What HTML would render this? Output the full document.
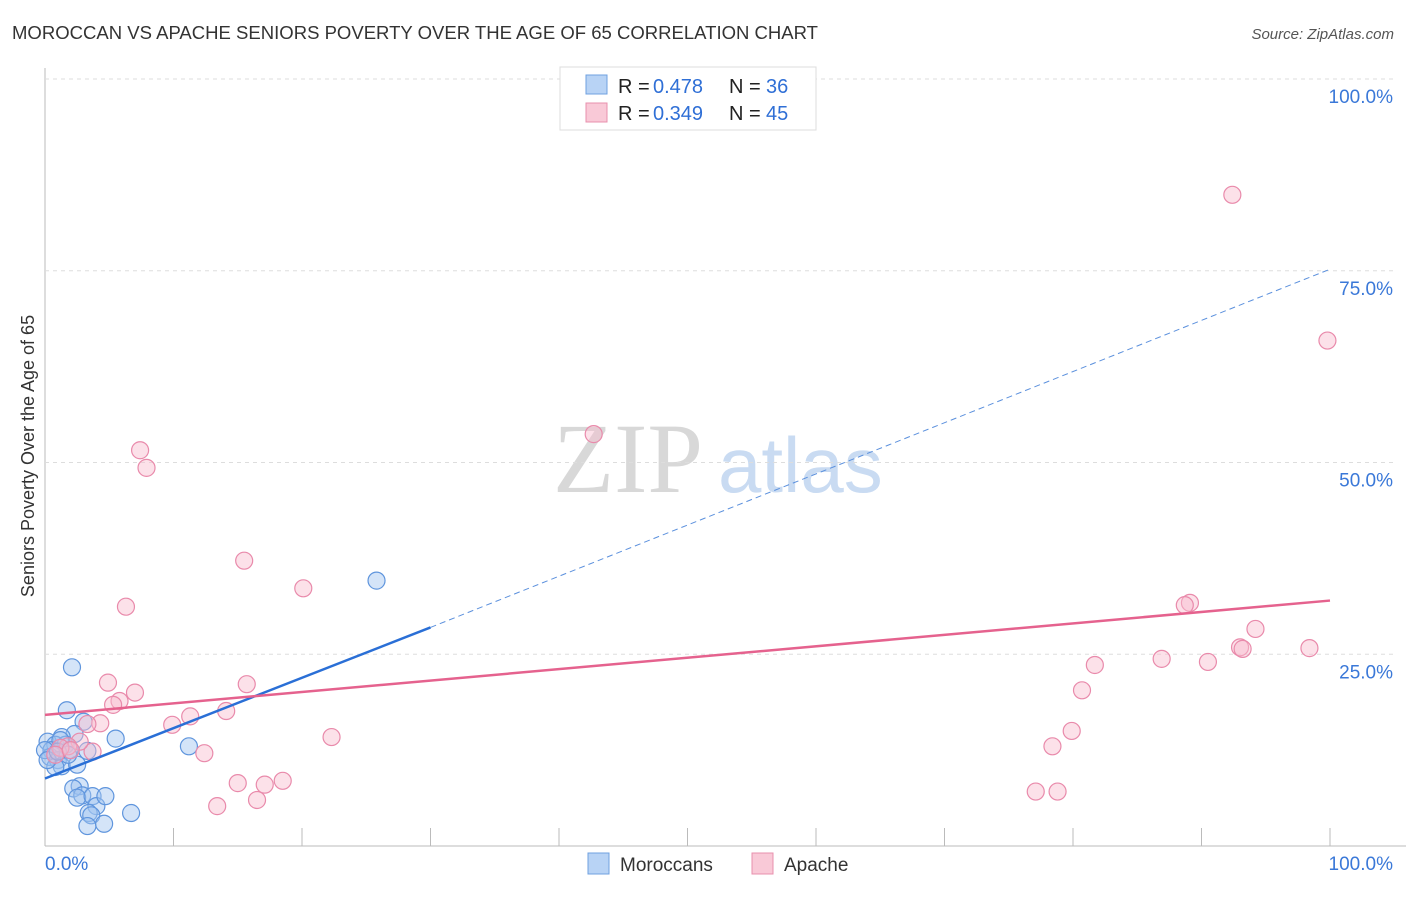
<!DOCTYPE html>
<html><head><meta charset="utf-8"><style>
body{margin:0;background:#fff;font-family:"Liberation Sans",sans-serif;}
svg text{font-family:"Liberation Sans",sans-serif;}
</style></head><body>
<svg id="c" width="1406" height="892">
<text x="12" y="39" font-size="18" fill="#333" textLength="806" lengthAdjust="spacingAndGlyphs">MOROCCAN VS APACHE SENIORS POVERTY OVER THE AGE OF 65 CORRELATION CHART</text>
<text x="1394" y="39" font-size="15" fill="#555" font-style="italic" text-anchor="end">Source: ZipAtlas.com</text>
<text x="34" y="456" font-size="18" fill="#333" text-anchor="middle" transform="rotate(-90 34 456)">Seniors Poverty Over the Age of 65</text>
<text x="553" y="492" font-size="100" fill="#d8d8d8" style="font-family:'Liberation Serif',serif">ZIP</text>
<text x="718" y="492" font-size="78" fill="#c9dbf2">atlas</text>
<g id="grid"></g><g id="pts"></g><g id="lines"></g>
<g>
<rect x="560" y="67" width="256" height="63" fill="#fff" stroke="#ddd"/>
<rect x="586" y="75" width="21" height="19" fill="#b8d3f5" stroke="#6fa0e0"/>
<rect x="586" y="103" width="21" height="19" fill="#f9c9d7" stroke="#e890ae"/>
<text x="618" y="93" font-size="20" fill="#222">R =</text><text x="653" y="93" font-size="20" fill="#2f6fd6">0.478</text>
<text x="729" y="93" font-size="20" fill="#222">N =</text><text x="766" y="93" font-size="20" fill="#2f6fd6">36</text>
<text x="618" y="120" font-size="20" fill="#222">R =</text><text x="653" y="120" font-size="20" fill="#2f6fd6">0.349</text>
<text x="729" y="120" font-size="20" fill="#222">N =</text><text x="766" y="120" font-size="20" fill="#2f6fd6">45</text>
</g>
<g>
<rect x="588" y="853" width="21" height="21" fill="#b8d3f5" stroke="#6fa0e0"/>
<text x="620" y="871" font-size="19" fill="#333">Moroccans</text>
<rect x="752" y="853" width="21" height="21" fill="#f9c9d7" stroke="#e890ae"/>
<text x="784" y="871" font-size="19" fill="#333">Apache</text>
</g>
</svg>
<script>
const yTicks=[25,50,75,100];
const yTickLabels=["25.0%","50.0%","75.0%","100.0%"];
const moroccanX=[2.1,1.7,3.0,2.3,1.3,0.2,0.8,1.6,0.5,1.9,0.4,1.0,1.3,0.8,2.5,3.3,5.5,11.2,25.8,2.7,2.2,2.9,2.5,3.7,4.0,4.7,3.4,3.6,3.3,4.6,6.7,0,0.2,1.2,1.8,1.0];
const moroccanY=[23.3,17.7,16.2,14.6,14.2,13.6,13.2,13.2,12.5,12.5,11.6,11.2,10.4,10.3,10.6,12.4,14.0,13.0,34.6,7.8,7.5,6.6,6.3,6.5,5.2,6.5,4.3,4.0,2.6,2.9,4.3,12.5,11.2,13.8,11.9,12.3];
const apacheX=[92.4,99.8,42.7,7.4,7.9,15.5,20.1,6.3,89.1,88.7,94.2,93.0,93.2,98.4,86.9,90.5,81.7,80.7,4.9,15.7,5.8,5.3,11.3,14.1,9.9,4.3,3.3,22.3,79.9,78.4,12.4,3.7,2.7,1.8,1.2,15.0,17.1,18.5,16.5,13.4,77.1,78.8,0.8,7.0,2.0];
const apacheY=[84.9,65.9,53.7,51.6,49.3,37.2,33.6,31.2,31.7,31.4,28.3,25.9,25.7,25.8,24.4,24.0,23.6,20.3,21.3,21.1,18.9,18.4,16.9,17.6,15.8,16.0,15.9,14.2,15.0,13.0,12.1,12.3,13.6,13.0,12.8,8.2,8.0,8.5,6.0,5.2,7.1,7.1,11.9,20.0,12.5];
const blueFit=[0,8.8,30,28.5];
const blueDash=[30,28.5,100,75.2];
const pinkFit=[0,17.1,100,32.0];
const X=v=>45+v*12.85, Y=v=>846-v*7.67;
const NS="http://www.w3.org/2000/svg";
function el(t,a,p){const e=document.createElementNS(NS,t);for(const k in a)e.setAttribute(k,a[k]);document.getElementById(p).appendChild(e);return e;}
let ax=el('line',{x1:45,y1:68,x2:45,y2:846,stroke:'#bbb'},'grid');


let bx=el('line',{x1:45,y1:846,x2:1406,y2:846,stroke:'#bbb'},'grid');


for(let i=1;i<=10;i++){let t=el('line',{x1:45+i*128.5,y1:828,x2:45+i*128.5,y2:846,stroke:'#bbb'},'grid');

}
yTicks.forEach((v,i)=>{let g=el('line',{x1:45,y1:Y(v),x2:1394,y2:Y(v),stroke:'#ddd','stroke-dasharray':'4,4'},'grid');


let t=el('text',{x:1393,y:Y(v)+24,'font-size':19,fill:'#3a78d8','text-anchor':'end'},'grid');t.textContent=yTickLabels[i];

});
let x0=el('text',{x:45,y:870,'font-size':19,fill:'#3a78d8'},'grid');x0.textContent='0.0%';


let x1=el('text',{x:1393,y:870,'font-size':19,fill:'#3a78d8','text-anchor':'end'},'grid');x1.textContent='100.0%';


moroccanX.forEach((v,i)=>{let c=el('circle',{cx:X(v),cy:Y(moroccanY[i]),r:8.5,fill:'rgba(160,196,240,0.45)',stroke:'#5f95dd','stroke-width':1.2},'pts');

});
apacheX.forEach((v,i)=>{let c=el('circle',{cx:X(v),cy:Y(apacheY[i]),r:8.5,fill:'rgba(248,188,206,0.45)',stroke:'#e98aab','stroke-width':1.2},'pts');

});
let l1=el('line',{x1:X(blueFit[0]),y1:Y(blueFit[1]),x2:X(blueFit[2]),y2:Y(blueFit[3]),stroke:'#2a6fd6','stroke-width':2.5},'lines');


let l2=el('line',{x1:X(blueDash[0]),y1:Y(blueDash[1]),x2:X(blueDash[2]),y2:Y(blueDash[3]),stroke:'#5b90dd','stroke-width':1,'stroke-dasharray':'6,4'},'lines');


let l3=el('line',{x1:X(pinkFit[0]),y1:Y(pinkFit[1]),x2:X(pinkFit[2]),y2:Y(pinkFit[3]),stroke:'#e5628e','stroke-width':2.5},'lines');


</script>
</body></html>
